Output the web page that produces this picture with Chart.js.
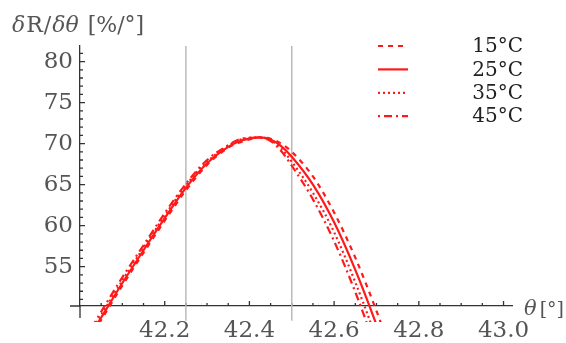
<!DOCTYPE html>
<html><head><meta charset="utf-8">
<script src="https://cdn.jsdelivr.net/npm/chart.js@4.4.1/dist/chart.umd.min.js"></script>
<style>html,body{margin:0;background:#fff}canvas{display:block}</style>
</head><body><canvas id="c" width="566" height="343"></canvas>
<script>
// angle grid (deg) and dR/dtheta (%/deg)
var theta=[42.02,42.05,42.10,42.15,42.20,42.25,42.30,42.35,42.375,42.40,42.425,42.45,42.475,42.50,42.55,42.60,42.65,42.70,42.73];
var r15=[46.0,48.5,52.7,56.7,60.6,64.3,67.4,69.5,70.1,70.5,70.75,70.6,70.0,69.0,66.0,61.6,56.1,49.6,45.3];
var r25=[46.3,48.8,53.0,57.0,60.9,64.6,67.6,69.6,70.25,70.6,70.75,70.5,69.7,68.4,65.0,60.4,54.6,47.9,43.5];
var r35=[46.6,49.1,53.3,57.3,61.2,64.9,67.8,69.7,70.4,70.7,70.75,70.4,69.4,67.8,64.0,59.2,53.1,46.2,41.7];
var r45=[46.9,49.5,53.7,57.6,61.5,65.1,68.0,69.8,70.5,70.7,70.7,70.3,69.1,67.3,63.2,58.1,51.9,44.8,40.2];
var seriesLabels=['15°C','25°C','35°C','45°C'];
var xTicks=[42.2,42.4,42.6,42.8,43.0];
var xTickLabels=['42.2','42.4','42.6','42.8','43.0'];
var yTicks=[55,60,65,70,75,80];
var markers=[42.25,42.5];

var RED='rgb(255,25,25)';
var SERIF='"DejaVu Serif", serif';
function pts(ys){return theta.map(function(t,i){return {x:t,y:ys[i]};});}
function curve(label,ys,dash){
  return {label:label,data:pts(ys),borderColor:RED,borderWidth:2.2,borderDash:dash,pointRadius:0,
    cubicInterpolationMode:'monotone',clip:{left:20,top:0,right:0,bottom:16}};
}
var ds=[curve(seriesLabels[0],r15,[5,5]),curve(seriesLabels[1],r25,[]),
        curve(seriesLabels[2],r35,[2,3]),curve(seriesLabels[3],r45,[2,4,8,4])];
markers.forEach(function(m){
  ds.push({data:[{x:m,y:48.4},{x:m,y:81.9}],borderColor:'#bbb',borderWidth:1.5,pointRadius:0,
    clip:{left:0,top:0,right:0,bottom:16}});
});

function drawText(ctx,parts,x,y){
  parts.forEach(function(p){
    ctx.font=(p[1]?'italic ':'')+p[2]+'px '+SERIF;
    ctx.fillText(p[0],x,y);x+=ctx.measureText(p[0]).width+(p[3]||0);
  });
}

var decor={id:'decor',
  beforeDatasetsDraw:function(ch){
    var ctx=ch.ctx,a=ch.chartArea,sx=ch.scales.x,sy=ch.scales.y;
    ctx.save();ctx.strokeStyle='#333';ctx.lineWidth=1.3;ctx.beginPath();
    ctx.moveTo(a.left-10,a.bottom);ctx.lineTo(a.left,a.bottom);
    ctx.moveTo(a.left,a.bottom);ctx.lineTo(a.left,a.bottom+12);
    for(var i=1;i<=20;i++){var px=sx.getPixelForValue(42+i*0.05),L=i%4===0?5:3;
      ctx.moveTo(px,a.bottom);ctx.lineTo(px,a.bottom-L);}
    for(var v=51;v<=81;v++){var py=sy.getPixelForValue(v),M=v%5===0?5:3;
      ctx.moveTo(a.left,py);ctx.lineTo(a.left+M,py);}
    ctx.stroke();ctx.restore();
  },
  afterDraw:function(ch){
    var ctx=ch.ctx;ctx.save();
    ctx.fillStyle='#555';ctx.textBaseline='alphabetic';ctx.textAlign='left';
    drawText(ctx,[['δ',1,22,1],['R',0,22,1],['/',0,22,1],['δθ',1,22,2],[' [%/°]',0,22]],12,32);
    drawText(ctx,[['θ',1,21,3],['[°]',0,19]],524,315);
    for(var i=0;i<4;i++){
      var d=ch.data.datasets[i],y=46+i*23.4;
      ctx.strokeStyle=d.borderColor;ctx.lineWidth=2.2;ctx.setLineDash(d.borderDash);
      ctx.beginPath();ctx.moveTo(378,y);ctx.lineTo(408,y);ctx.stroke();
      ctx.setLineDash([]);
      ctx.fillStyle='#222';ctx.font='20px '+SERIF;ctx.textAlign='right';ctx.textBaseline='middle';
      ctx.fillText(d.label,523,y+1);
    }
    ctx.restore();
  }
};

new Chart(document.getElementById('c').getContext('2d'),{
  type:'line',
  data:{datasets:ds},
  plugins:[decor],
  options:{responsive:false,animation:false,devicePixelRatio:1,
    layout:{padding:{left:0,top:46,right:54,bottom:0}},
    plugins:{legend:{display:false},tooltip:{enabled:false}},
    scales:{
      x:{type:'linear',min:42.0,max:43.02,
        afterBuildTicks:function(s){s.ticks=xTicks.map(function(v){return {value:v};});},
        afterFit:function(s){s.height=37;},
        grid:{drawOnChartArea:false,drawTicks:false},
        border:{color:'#333',width:1.3},
        ticks:{padding:11,color:'#555',autoSkip:false,maxRotation:0,font:{family:SERIF,size:23},
          callback:function(v,i){return xTickLabels[i];}}},
      y:{type:'linear',min:50.2,max:81.9,
        afterBuildTicks:function(s){s.ticks=yTicks.map(function(v){return {value:v};});},
        afterFit:function(s){s.width=80;},
        grid:{drawOnChartArea:false,drawTicks:false},
        border:{color:'#333',width:1.3},
        ticks:{padding:7,color:'#555',autoSkip:false,font:{family:SERIF,size:23},
          callback:function(v){return String(v);}}}
    }
  }
});
</script>
</body></html>
